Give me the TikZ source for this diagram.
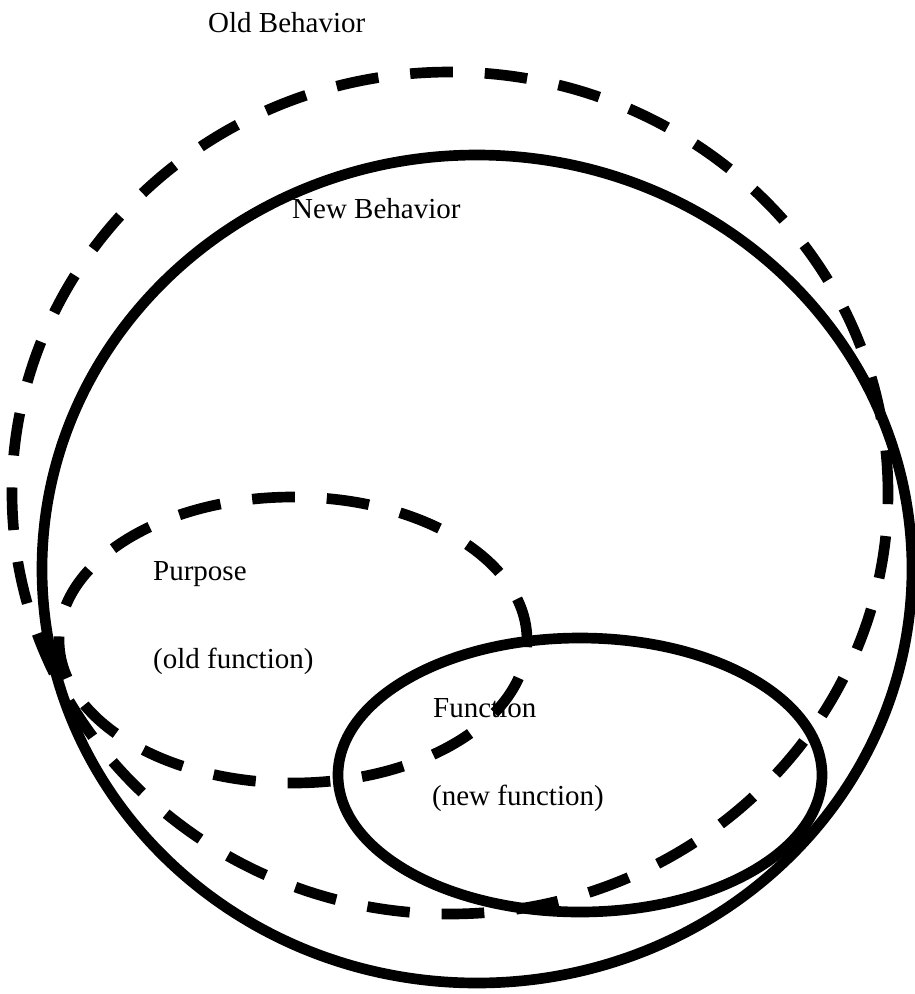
\documentclass[tikz,border=0pt]{standalone}
\usepackage{fontspec}
\setmainfont{Liberation Serif}
\begin{document}
\begin{tikzpicture}[x=1pt,y=-1pt,
    solidring/.style={draw=black,line width=10.67pt},
    dashring/.style={draw=black,line width=10.67pt,dash pattern=on 42.67pt off 32pt},
    caption/.style={anchor=base west,inner sep=0pt,font=\fontsize{29}{34}\selectfont}]
  \useasboundingbox (0,0) rectangle (915,994);
  % centres of the four sets
  \coordinate (oldc) at (450,493);
  \coordinate (newc) at (477,569);
  \coordinate (purc) at (293,640);
  \coordinate (func) at (580,775);
  % outer sets: old and new behaviour
  \draw[dashring] (oldc) ellipse [x radius=438pt, y radius=421pt];
  \draw[solidring] (newc) ellipse [x radius=435pt, y radius=414pt];
  % inner sets: purpose and function
  \draw[dashring] (purc) ellipse [x radius=234pt, y radius=143pt];
  \draw[solidring] (func) ellipse [x radius=242pt, y radius=137pt];
  % labels
  \node[caption] (oldlbl) at (208,32) {Old Behavior};
  \node[caption] (newlbl) at (292,218) {New Behavior};
  \node[caption] (purlbl) at (153,580) {Purpose};
  \node[caption] (purlbl2) at (153,668) {(old function)};
  \node[caption] (funlbl) at (433,717) {Function};
  \node[caption] (funlbl2) at (432,805) {(new function)};
\end{tikzpicture}
\end{document}
